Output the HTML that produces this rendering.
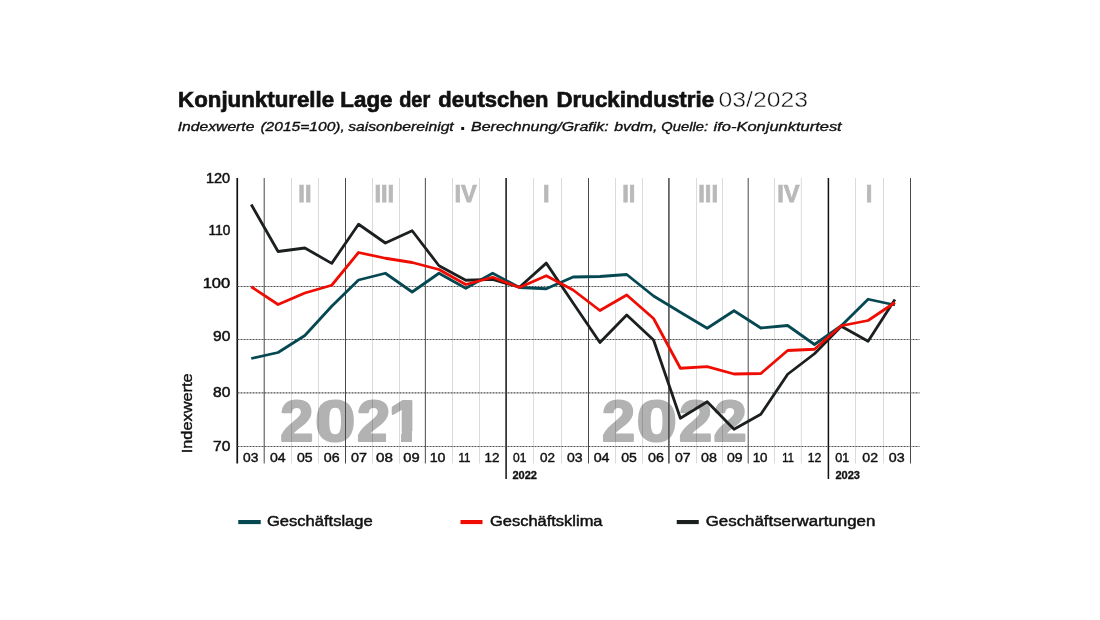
<!DOCTYPE html>
<html lang="de">
<head>
<meta charset="utf-8">
<title>Konjunkturelle Lage der deutschen Druckindustrie 03/2023</title>
<style>
html,body{margin:0;padding:0;background:#fff;}
body{width:1100px;height:620px;overflow:hidden;font-family:"Liberation Sans", sans-serif;}
svg{display:block;}
text{font-family:"Liberation Sans", sans-serif;}
.ttl{font-weight:700;font-size:21.6px;fill:#111;stroke:#111;stroke-width:.65px;}
.ttl2{font-weight:400;font-size:21.6px;fill:#111;stroke:#fff;stroke-width:.45px;}
.sub{font-style:italic;font-size:13.2px;fill:#111;stroke:#111;stroke-width:.35px;}
.q{font-weight:700;font-size:23.7px;fill:#b9b9b9;stroke:#b9b9b9;stroke-width:.75px;text-anchor:middle;}
.big{font-weight:700;font-size:57.6px;fill:#b2b2b2;stroke:#b2b2b2;stroke-width:2.2px;stroke-linejoin:round;}
.yl{font-size:14.2px;fill:#111;stroke:#111;stroke-width:.5px;}
.xl{font-size:12.2px;fill:#111;stroke:#111;stroke-width:.4px;}
.yr{font-size:10.5px;font-weight:700;fill:#111;stroke:#111;stroke-width:.3px;}
.ax{font-size:14px;fill:#111;stroke:#111;stroke-width:.4px;}
.lg{font-size:14px;fill:#111;stroke:#111;stroke-width:.45px;}
.ser{fill:none;stroke-width:2.8;stroke-linejoin:round;stroke-linecap:butt;}
</style>
</head>
<body>
<svg width="1100" height="620" viewBox="0 0 1100 620">
<defs>
<filter id="idn" filterUnits="userSpaceOnUse" x="0" y="0" width="1100" height="620" color-interpolation-filters="sRGB"><feOffset dx="0" dy="0"/></filter>
<clipPath id="nofoot"><path clip-rule="evenodd" d="M270 390H760V450H270Z M386 431H401.1V447H386Z M412 431H426V447H412Z"/></clipPath>
</defs>
<rect width="1100" height="620" fill="#fff"/>
<g filter="url(#idn)">

<text class="ttl" x="178.14" y="106.8" textLength="155.94" lengthAdjust="spacingAndGlyphs">Konjunkturelle</text>
<text class="ttl" x="340.38" y="106.8" textLength="52.09" lengthAdjust="spacingAndGlyphs">Lage</text>
<text class="ttl" x="399.18" y="106.8" textLength="31.04" lengthAdjust="spacingAndGlyphs">der</text>
<text class="ttl" x="438.33" y="106.8" textLength="110.20" lengthAdjust="spacingAndGlyphs">deutschen</text>
<text class="ttl" x="556.48" y="106.8" textLength="157.58" lengthAdjust="spacingAndGlyphs">Druckindustrie</text>
<text class="ttl2" x="718.44" y="106.8" textLength="89.56" lengthAdjust="spacingAndGlyphs">03/2023</text>
<text class="sub" x="177.73" y="131.3" textLength="76.70" lengthAdjust="spacingAndGlyphs">Indexwerte</text>
<text class="sub" x="260.42" y="131.3" textLength="84.42" lengthAdjust="spacingAndGlyphs">(2015=100),</text>
<text class="sub" x="348.19" y="131.3" textLength="105.55" lengthAdjust="spacingAndGlyphs">saisonbereinigt</text>
<text class="sub" x="471.04" y="131.3" textLength="137.72" lengthAdjust="spacingAndGlyphs">Berechnung/Grafik:</text>
<text class="sub" x="614.22" y="131.3" textLength="43.16" lengthAdjust="spacingAndGlyphs">bvdm,</text>
<text class="sub" x="661.39" y="131.3" textLength="46.64" lengthAdjust="spacingAndGlyphs">Quelle:</text>
<text class="sub" x="713.59" y="131.3" textLength="128.12" lengthAdjust="spacingAndGlyphs">ifo-Konjunkturtest</text>
<text x="459.83" y="135.05" style="font-size:21px;font-weight:700;fill:#111">·</text>
<text class="big" y="441.4" clip-path="url(#nofoot)"><tspan x="280.27" textLength="33.10" lengthAdjust="spacingAndGlyphs">2</tspan><tspan x="315.04" textLength="40.40" lengthAdjust="spacingAndGlyphs">0</tspan><tspan x="356.97" textLength="33.30" lengthAdjust="spacingAndGlyphs">2</tspan><tspan x="388.70" textLength="33.70" lengthAdjust="spacingAndGlyphs">1</tspan></text>
<text class="big" y="441.4" clip-path="url(#nofoot)"><tspan x="601.97" textLength="33.10" lengthAdjust="spacingAndGlyphs">2</tspan><tspan x="636.64" textLength="40.40" lengthAdjust="spacingAndGlyphs">0</tspan><tspan x="679.07" textLength="33.10" lengthAdjust="spacingAndGlyphs">2</tspan><tspan x="713.57" textLength="33.10" lengthAdjust="spacingAndGlyphs">2</tspan></text>
<text class="q" x="304.9" y="201.6">II</text>
<text class="q" x="384.25" y="201.6">III</text>
<text class="q" x="465.6" y="201.6">IV</text>
<text class="q" x="546.25" y="201.6">I</text>
<text class="q" x="628.75" y="201.6">II</text>
<text class="q" x="708.1" y="201.6">III</text>
<text class="q" x="788.4" y="201.6">IV</text>
<text class="q" x="869" y="201.6">I</text>
<line x1="237.25" y1="178.0" x2="237.25" y2="463.5" stroke="#111" stroke-width="1.7"/>
<line x1="264.2" y1="178.0" x2="264.2" y2="463.5" stroke="#484848" stroke-width="1"/>
<line x1="291.5" y1="178.0" x2="291.5" y2="463.5" stroke="#000" stroke-opacity="0.14" stroke-width="1"/>
<line x1="318.5" y1="178.0" x2="318.5" y2="463.5" stroke="#000" stroke-opacity="0.14" stroke-width="1"/>
<line x1="345.5" y1="178.0" x2="345.5" y2="463.5" stroke="#484848" stroke-width="1"/>
<line x1="372.5" y1="178.0" x2="372.5" y2="463.5" stroke="#000" stroke-opacity="0.14" stroke-width="1"/>
<line x1="399.5" y1="178.0" x2="399.5" y2="463.5" stroke="#000" stroke-opacity="0.14" stroke-width="1"/>
<line x1="425.35" y1="178.0" x2="425.35" y2="463.5" stroke="#484848" stroke-width="1"/>
<line x1="452.5" y1="178.0" x2="452.5" y2="463.5" stroke="#000" stroke-opacity="0.14" stroke-width="1"/>
<line x1="479.5" y1="178.0" x2="479.5" y2="463.5" stroke="#000" stroke-opacity="0.14" stroke-width="1"/>
<line x1="506.1" y1="178.0" x2="506.1" y2="479" stroke="#111" stroke-width="1.5"/>
<line x1="533.5" y1="178.0" x2="533.5" y2="463.5" stroke="#000" stroke-opacity="0.14" stroke-width="1"/>
<line x1="561.5" y1="178.0" x2="561.5" y2="463.5" stroke="#000" stroke-opacity="0.14" stroke-width="1"/>
<line x1="588.5" y1="178.0" x2="588.5" y2="463.5" stroke="#484848" stroke-width="1"/>
<line x1="615.5" y1="178.0" x2="615.5" y2="463.5" stroke="#000" stroke-opacity="0.14" stroke-width="1"/>
<line x1="642.5" y1="178.0" x2="642.5" y2="463.5" stroke="#000" stroke-opacity="0.14" stroke-width="1"/>
<line x1="668.9" y1="178.0" x2="668.9" y2="463.5" stroke="#484848" stroke-width="1.5"/>
<line x1="696.5" y1="178.0" x2="696.5" y2="463.5" stroke="#000" stroke-opacity="0.14" stroke-width="1"/>
<line x1="722.5" y1="178.0" x2="722.5" y2="463.5" stroke="#000" stroke-opacity="0.14" stroke-width="1"/>
<line x1="748.2" y1="178.0" x2="748.2" y2="463.5" stroke="#484848" stroke-width="1"/>
<line x1="774.5" y1="178.0" x2="774.5" y2="463.5" stroke="#000" stroke-opacity="0.14" stroke-width="1"/>
<line x1="801.3" y1="178.0" x2="801.3" y2="463.5" stroke="#000" stroke-opacity="0.14" stroke-width="1"/>
<line x1="828.4" y1="178.0" x2="828.4" y2="479" stroke="#111" stroke-width="1.5"/>
<line x1="855.5" y1="178.0" x2="855.5" y2="463.5" stroke="#000" stroke-opacity="0.14" stroke-width="1"/>
<line x1="883.5" y1="178.0" x2="883.5" y2="463.5" stroke="#000" stroke-opacity="0.14" stroke-width="1"/>
<line x1="910.5" y1="178.0" x2="910.5" y2="463.5" stroke="#484848" stroke-width="1"/>
<line x1="237.5" y1="286.5" x2="919.5" y2="286.5" stroke="#505050" stroke-width="1.15" stroke-dasharray="2 1"/>
<line x1="237.5" y1="339.5" x2="919.5" y2="339.5" stroke="#505050" stroke-width="1.15" stroke-dasharray="2 1"/>
<line x1="237.5" y1="392.8" x2="919.5" y2="392.8" stroke="#505050" stroke-width="1.15" stroke-dasharray="2 1"/>
<line x1="237.5" y1="446.5" x2="919.5" y2="446.5" stroke="#505050" stroke-width="1.15" stroke-dasharray="2 1"/>
<text class="yl" x="205.96" y="183" textLength="24.22" lengthAdjust="spacingAndGlyphs">120</text>
<text class="yl" x="208.62" y="234.5" textLength="21.70" lengthAdjust="spacingAndGlyphs">110</text>
<text class="yl" x="202.65" y="287.5" textLength="27.50" lengthAdjust="spacingAndGlyphs">100</text>
<text class="yl" x="213.00" y="341.25" textLength="17.29" lengthAdjust="spacingAndGlyphs">90</text>
<text class="yl" x="213.00" y="396.5" textLength="17.29" lengthAdjust="spacingAndGlyphs">80</text>
<text class="yl" x="213.00" y="451.25" textLength="17.29" lengthAdjust="spacingAndGlyphs">70</text>
<text class="xl" x="243.00" y="462.3" textLength="15.37" lengthAdjust="spacingAndGlyphs">03</text>
<text class="xl" x="270.00" y="462.3" textLength="15.66" lengthAdjust="spacingAndGlyphs">04</text>
<text class="xl" x="297.00" y="462.3" textLength="15.66" lengthAdjust="spacingAndGlyphs">05</text>
<text class="xl" x="323.71" y="462.3" textLength="15.87" lengthAdjust="spacingAndGlyphs">06</text>
<text class="xl" x="351.00" y="462.3" textLength="16.00" lengthAdjust="spacingAndGlyphs">07</text>
<text class="xl" x="376.13" y="462.3" textLength="16.92" lengthAdjust="spacingAndGlyphs">08</text>
<text class="xl" x="403.22" y="462.3" textLength="16.36" lengthAdjust="spacingAndGlyphs">09</text>
<text class="xl" x="429.69" y="462.3" textLength="15.83" lengthAdjust="spacingAndGlyphs">10</text>
<text class="xl" x="458.45" y="462.3" textLength="11.99" lengthAdjust="spacingAndGlyphs">11</text>
<text class="xl" x="484.47" y="462.3" textLength="14.97" lengthAdjust="spacingAndGlyphs">12</text>
<text class="xl" x="513.00" y="462.3" textLength="13.39" lengthAdjust="spacingAndGlyphs">01</text>
<text class="xl" x="540.00" y="462.3" textLength="15.00" lengthAdjust="spacingAndGlyphs">02</text>
<text class="xl" x="567.00" y="462.3" textLength="15.66" lengthAdjust="spacingAndGlyphs">03</text>
<text class="xl" x="593.70" y="462.3" textLength="15.87" lengthAdjust="spacingAndGlyphs">04</text>
<text class="xl" x="621.25" y="462.3" textLength="15.66" lengthAdjust="spacingAndGlyphs">05</text>
<text class="xl" x="648.00" y="462.3" textLength="15.87" lengthAdjust="spacingAndGlyphs">06</text>
<text class="xl" x="675.00" y="462.3" textLength="15.66" lengthAdjust="spacingAndGlyphs">07</text>
<text class="xl" x="701.14" y="462.3" textLength="15.87" lengthAdjust="spacingAndGlyphs">08</text>
<text class="xl" x="727.00" y="462.3" textLength="15.66" lengthAdjust="spacingAndGlyphs">09</text>
<text class="xl" x="752.68" y="462.3" textLength="14.85" lengthAdjust="spacingAndGlyphs">10</text>
<text class="xl" x="782.32" y="462.3" textLength="11.51" lengthAdjust="spacingAndGlyphs">11</text>
<text class="xl" x="807.81" y="462.3" textLength="13.55" lengthAdjust="spacingAndGlyphs">12</text>
<text class="xl" x="835.34" y="462.3" textLength="14.03" lengthAdjust="spacingAndGlyphs">01</text>
<text class="xl" x="862.35" y="462.3" textLength="15.66" lengthAdjust="spacingAndGlyphs">02</text>
<text class="xl" x="888.71" y="462.3" textLength="15.87" lengthAdjust="spacingAndGlyphs">03</text>
<text class="yr" x="512.41" y="478.6" textLength="24.60" lengthAdjust="spacingAndGlyphs">2022</text>
<text class="yr" x="835.41" y="478.6" textLength="24.60" lengthAdjust="spacingAndGlyphs">2023</text>
<text class="ax" transform="translate(191.6 453.3) rotate(-90)" textLength="80" lengthAdjust="spacingAndGlyphs">Indexwerte</text>
<polyline class="ser" stroke="#064852" points="251.25,358.50 278.07,352.50 304.89,335.50 331.71,306.25 358.53,280.00 385.35,273.25 412.17,292.00 438.99,273.25 465.81,288.25 492.63,273.25 519.45,287.50 546.27,288.75 573.09,277.00 599.91,276.50 626.73,274.50 653.55,296.00 680.37,312.25 707.19,328.25 734.01,310.75 760.83,328.00 787.65,325.50 814.47,344.50 841.29,325.75 868.11,299.25 894.93,305.00"/>
<polyline class="ser" stroke="#1c1f20" points="251.25,204.50 278.07,251.50 304.89,248.00 331.71,263.40 358.53,224.25 385.35,243.00 412.17,230.75 438.99,265.75 465.81,280.25 492.63,279.40 519.45,287.25 546.27,263.10 573.09,303.00 599.91,342.50 626.73,315.00 653.55,340.00 680.37,418.25 707.19,401.75 734.01,429.25 760.83,414.25 787.65,374.25 814.47,353.75 841.29,326.25 868.11,341.25 894.93,299.50"/>
<polyline class="ser" stroke="#ef0c03" points="251.25,286.75 278.07,304.50 304.89,293.00 331.71,285.25 358.53,252.50 385.35,258.25 412.17,262.50 438.99,269.50 465.81,284.50 492.63,277.25 519.45,287.50 546.27,275.75 573.09,290.00 599.91,310.50 626.73,295.00 653.55,318.50 680.37,368.25 707.19,366.60 734.01,374.00 760.83,373.50 787.65,350.50 814.47,349.25 841.29,325.75 868.11,320.50 894.93,302.50"/>
<rect x="238.25" y="520" width="22.5" height="4.1" fill="#064852"/>
<rect x="460.5" y="520" width="22.0" height="4.1" fill="#ef0c03"/>
<rect x="676.75" y="520" width="22.0" height="4.1" fill="#1c1f20"/>
<text class="lg" x="266.99" y="525.8" textLength="105.68" lengthAdjust="spacingAndGlyphs">Geschäftslage</text>
<text class="lg" x="489.99" y="525.8" textLength="112.53" lengthAdjust="spacingAndGlyphs">Geschäftsklima</text>
<text class="lg" x="705.73" y="525.8" textLength="169.60" lengthAdjust="spacingAndGlyphs">Geschäftserwartungen</text>
</g>
</svg>
</body>
</html>
